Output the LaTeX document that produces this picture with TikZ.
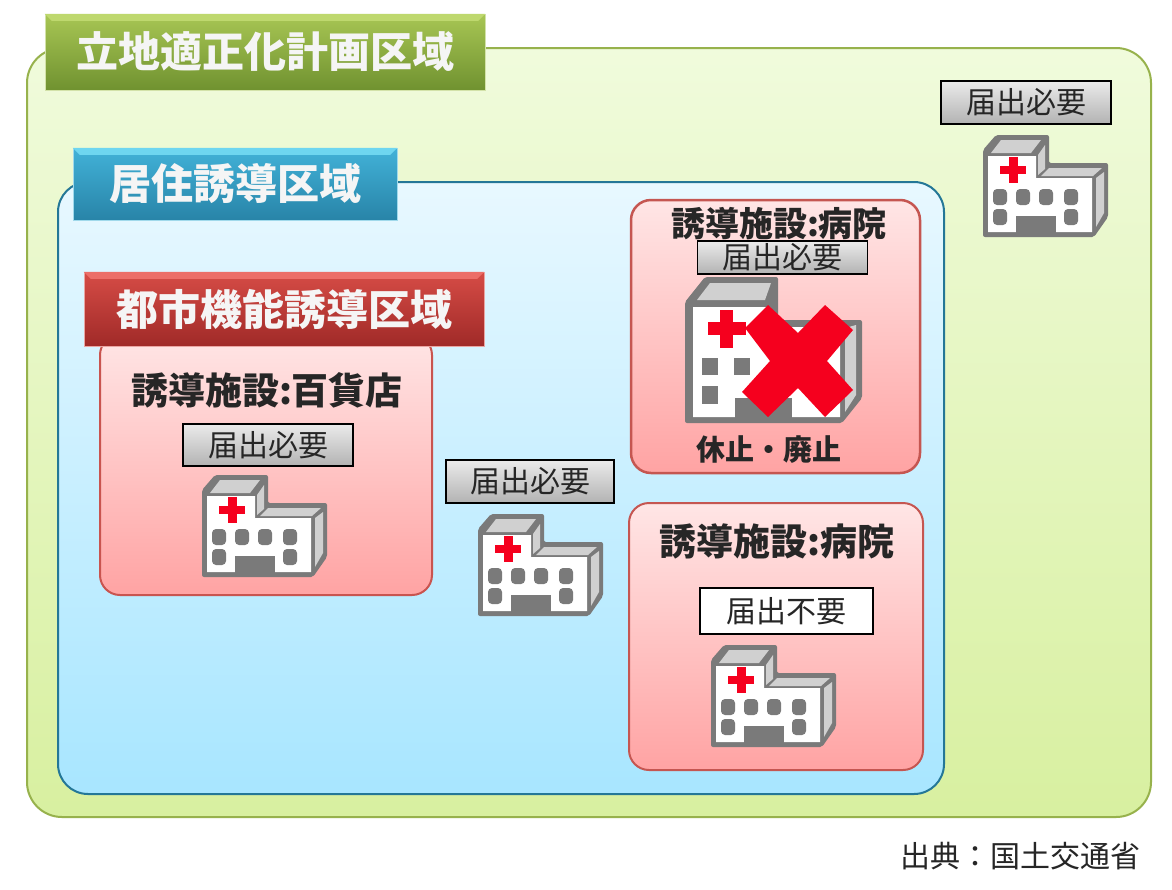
\documentclass[tikz,border=0pt]{standalone}
\usepackage{fontspec}
\newfontfamily\cjk{Noto Sans CJK JP}
\newcommand{\fsize}[1]{\fontsize{#1}{#1}\selectfont}
\definecolor{hospgray}{RGB}{122,122,122}
\definecolor{hosplight}{RGB}{208,208,208}
\definecolor{crossred}{RGB}{245,0,30}
\definecolor{plantop}{RGB}{168,198,84}
\definecolor{planbot}{RGB}{112,146,48}
\definecolor{plandge}{RGB}{190,216,110}
\definecolor{planhigh}{RGB}{240,251,220}
\definecolor{planlow}{RGB}{216,240,160}
\definecolor{livetop}{RGB}{66,178,216}
\definecolor{livebot}{RGB}{40,132,168}
\definecolor{livedge}{RGB}{110,214,240}
\definecolor{livehigh}{RGB}{232,248,255}
\definecolor{livelow}{RGB}{168,230,255}
\definecolor{urbtop}{RGB}{214,76,70}
\definecolor{urbbot}{RGB}{160,42,40}
\definecolor{urbdge}{RGB}{236,110,104}
\tikzset{
  banner/.style={minimum height=#1, inner sep=0pt, font=\cjk\bfseries\fsize{42}, text=white!96!black},
  area/.style={line width=2pt, rounded corners=20pt, draw=#1, top color=red!10, bottom color=red!36},
  notice/.style={draw=black, line width=1.6pt, top color=white!92!black, bottom color=black!30, minimum width=170pt, minimum height=43pt, inner sep=0pt, font=\cjk\fsize{30}, text=black!85},
  facility/.style={inner sep=0pt, font=\cjk\bfseries\fsize{#1}, text=black!85},
  hospital/.pic={
    \fill [hospgray, rounded corners=2pt] (0,15)--(13,0)--(66,0)--(66,28)--(125,28)--(125,82)--(111,102)--(0,102)--cycle;
    \fill [hosplight] (8,18)--(18,5)--(58,5)--(48,18)--cycle;
    \fill [hosplight] (55,20)--(62,10)--(62,34)--(55,40)--cycle;
    \fill [hosplight] (58,41)--(66,33)--(119,33)--(110,41)--cycle;
    \fill [hosplight] (113,43)--(121,37)--(121,78)--(113,92)--cycle;
    \fill [white] (5,21)--(53,21)--(53,43)--(109,43)--(109,97)--(5,97)--cycle;
    \fill [hospgray] (33,81) rectangle (73,98);
    \foreach \winx/\winy in {17/62, 40/62, 63/62, 88/62, 17/82, 88/82}
      \fill [hospgray, rounded corners=4pt] (\winx-7,\winy-8) rectangle (\winx+7,\winy+8);
    \fill [crossred] (26,22) rectangle (35,48);
    \fill [crossred] (17,31) rectangle (43,39);
  }
}
\begin{document}
\begin{tikzpicture}[x=1pt,y=-1pt]
  \useasboundingbox [fill=white] (0,0) rectangle (1172,889);

  % areas
  \draw [line width=2pt, draw=plantop!90!black, rounded corners=35pt, top color=planhigh, bottom color=planlow] (27,48) rectangle (1151,817);
  \draw [line width=2pt, draw=livebot!90!black, rounded corners=30pt, top color=livehigh, bottom color=livelow] (58,182) rectangle (944,794);
  \draw [area=urbtop!85!gray] (100,335) rectangle (432,595);
  \draw [area=urbtop!80!gray, line width=2.5pt] (631,200) rectangle (920,473);
  \draw [area=urbtop!80!gray] (629,503) rectangle (923,770);

  % banners
  \node [banner=76pt, minimum width=440pt, top color=plantop, bottom color=planbot, draw=plantop!50] (plan) at (265,52) {立地適正化計画区域};
  \node [banner=72pt, minimum width=324pt, top color=livetop, bottom color=livebot, draw=livetop!50] (living) at (235,184) {居住誘導区域};
  \node [banner=74pt, minimum width=400pt, top color=urbtop, bottom color=urbbot, draw=urbtop!50] (urban) at (284,309) {都市機能誘導区域};

  \fill [plandge] (plan.north west)--(plan.north east)--([xshift=-7pt,yshift=-7pt]plan.north east)--([xshift=7pt,yshift=-7pt]plan.north west)--cycle;
  \fill [livedge] (living.north west)--(living.north east)--([xshift=-7pt,yshift=-7pt]living.north east)--([xshift=7pt,yshift=-7pt]living.north west)--cycle;
  \fill [urbdge] (urban.north west)--(urban.north east)--([xshift=-7pt,yshift=-7pt]urban.north east)--([xshift=7pt,yshift=-7pt]urban.north west)--cycle;

  % texts
  \node [facility=37] (store) at (267,390) {誘導施設:百貨店};
  \node [facility=34] (closedtitle) at (779,224) {誘導施設:病院};
  \node [facility=37] (opentitle) at (777,541) {誘導施設:病院};
  \node [facility=29] (closed) at (769,450) {休止・廃止};

  \node [notice] (noticeout) at (1026,102.5) {届出必要};
  \node [notice, minimum height=42pt] (noticestore) at (268,445) {届出必要};
  \node [notice, minimum width=168pt] (noticemid) at (530,481.5) {届出必要};
  \node [notice, minimum height=33pt] (noticeclosed) at (782.5,257.5) {届出必要};
  \node [notice, top color=white, bottom color=white, minimum width=173pt, minimum height=46pt] (noticeopen) at (786.5,611) {届出不要};

  % hospitals
  \pic at (983,135) {hospital};
  \pic at (202,475) {hospital};
  \pic at (478,514) {hospital};
  \pic at (711,645) {hospital};

  % closed hospital
  \fill [hospgray, rounded corners=2pt] (685,302)--(705,277)--(778,277)--(778,320)--(862,320)--(862,398)--(842,423)--(685,423)--cycle;
  \fill [hosplight] (697,300)--(710,283)--(771,283)--(765,300)--cycle;
  \fill [hosplight] (845,328)--(856,325)--(856,395)--(845,412)--cycle;
  \fill [white] (693,307)--(770,307)--(770,327)--(840,327)--(840,417)--(693,417)--cycle;
  \fill [hospgray] (735,398) rectangle (792,423);
  \fill [hospgray] (702,358) rectangle (718,375);
  \fill [hospgray] (734,358) rectangle (750,375);
  \fill [hospgray] (702,386) rectangle (718,404);
  \fill [crossred] (720,310) rectangle (733,348);
  \fill [crossred] (708,322) rectangle (746,335);
  \fill [crossred] (768,305)--(798,333)--(825,305)--(853,330)--(827,361)--(853,390)--(825,417)--(798,388)--(768,417)--(742,392)--(770,361)--(745,328)--cycle;

  \node [inner sep=0pt, font=\cjk\fsize{30}, text=black!85] (source) at (1020,856) {出典：国土交通省};
\end{tikzpicture}
\end{document}
